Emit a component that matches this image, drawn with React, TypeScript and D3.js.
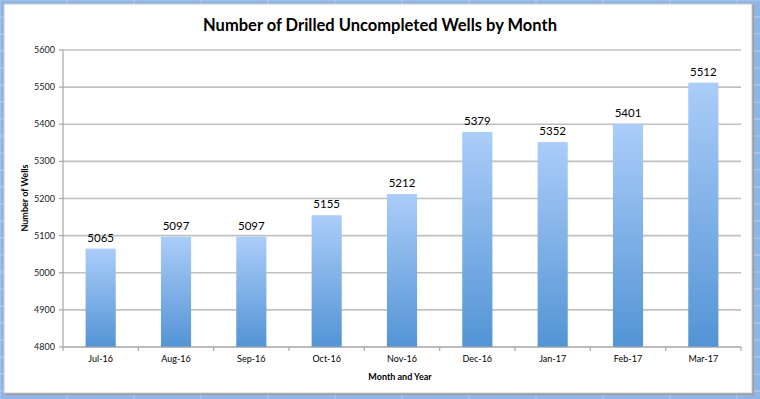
import * as d3 from "d3";

// data
const months = ["Jul-16", "Aug-16", "Sep-16", "Oct-16", "Nov-16", "Dec-16", "Jan-17", "Feb-17", "Mar-17"];
const wells = [5065, 5097, 5097, 5155, 5212, 5379, 5352, 5401, 5512];
const yTicks = [4800, 4900, 5000, 5100, 5200, 5300, 5400, 5500, 5600];

const W = 760;
const H = 399;
const plot = { left: 63, right: 741, top: 50, bottom: 347 };

export default function App() {
  const x = d3.scaleBand().domain(months).range([plot.left, plot.right]).paddingInner(0.6).paddingOuter(0.3);
  const band = d3.scaleBand().domain(months).range([plot.left, plot.right]);
  const y = d3.scaleLinear().domain([4800, 5600]).range([plot.bottom, plot.top]);

  // faint spreadsheet grid showing round the chart
  const sheetCols = d3.range(0, W, 67);
  const sheetRows = d3.range(0, H, 17);

  return (
    <svg width={W} height={H} style={{ position: "absolute", left: 0, top: 0, display: "block" }} fontFamily="Lato, 'Open Sans', sans-serif">
      <defs>
        <linearGradient id="barGrad" x1="0" y1="0" x2="0" y2="1">
          <stop offset="0%" stopColor="#abcdf9" />
          <stop offset="100%" stopColor="#5394d5" />
        </linearGradient>
      </defs>
      <rect x={0} y={0} width={W} height={H} fill="#8fb5e6" />
      {sheetCols.map((c) => (
        <line key={"c" + c} x1={c} x2={c} y1={0} y2={H} stroke="#b3cdef" strokeWidth={1} />
      ))}
      {sheetRows.map((r) => (
        <line key={"r" + r} x1={0} x2={W} y1={r} y2={r} stroke="#b3cdef" strokeWidth={1} />
      ))}
      <rect x={5} y={5} width={749} height={390} fill="#9a9a9a" />
      <rect x={4} y={4} width={748} height={389} fill="#ffffff" stroke="#c8c8c8" strokeWidth={1} />

      <text x={380} y={31} textAnchor="middle" fontSize={16.5} fontWeight="bold" fill="#000">
        Number of Drilled Uncompleted Wells by Month
      </text>

      {yTicks.map((t) => (
        <g key={t}>
          <line x1={plot.left} x2={plot.right} y1={y(t)} y2={y(t)} stroke="#c0c0c0" strokeWidth={1.6} />
          <line x1={plot.left - 4} x2={plot.left} y1={y(t)} y2={y(t)} stroke="#a6a6a6" strokeWidth={1.2} />
          <text x={plot.left - 8} y={y(t) + 3} textAnchor="end" fontSize={9} fill="#222">
            {t}
          </text>
        </g>
      ))}

      <line x1={plot.left} x2={plot.left} y1={plot.top} y2={plot.bottom} stroke="#a6a6a6" strokeWidth={1.2} />

      {months.map((m, i) => (
        <rect
          key={m}
          x={x(m)}
          y={y(wells[i])}
          width={x.bandwidth()}
          height={plot.bottom - y(wells[i])}
          fill="url(#barGrad)"
        />
      ))}

      {months.map((m, i) => (
        <text key={"v" + m} x={(x(m) ?? 0) + x.bandwidth() / 2} y={y(wells[i]) - 7} textAnchor="middle" fontSize={11.5} fill="#000">
          {wells[i]}
        </text>
      ))}

      <line x1={plot.left} x2={plot.right} y1={plot.bottom} y2={plot.bottom} stroke="#a6a6a6" strokeWidth={1.2} />
      {months.concat(["end"]).map((m, i) => {
        const xx = plot.left + band.step() * i;
        return <line key={"t" + i} x1={xx} x2={xx} y1={plot.bottom} y2={plot.bottom + 4} stroke="#a6a6a6" strokeWidth={1.2} />;
      })}
      {months.map((m) => (
        <text key={"l" + m} x={(band(m) ?? 0) + band.bandwidth() / 2} y={362} textAnchor="middle" fontSize={9} fill="#000">
          {m}
        </text>
      ))}

      <text x={400} y={380} textAnchor="middle" fontSize={9} fontWeight="bold" fill="#000">
        Month and Year
      </text>
      <text transform="translate(28,198) rotate(-90)" textAnchor="middle" fontSize={9} fontWeight="bold" fill="#000">
        Number of Wells
      </text>
    </svg>
  );
}
